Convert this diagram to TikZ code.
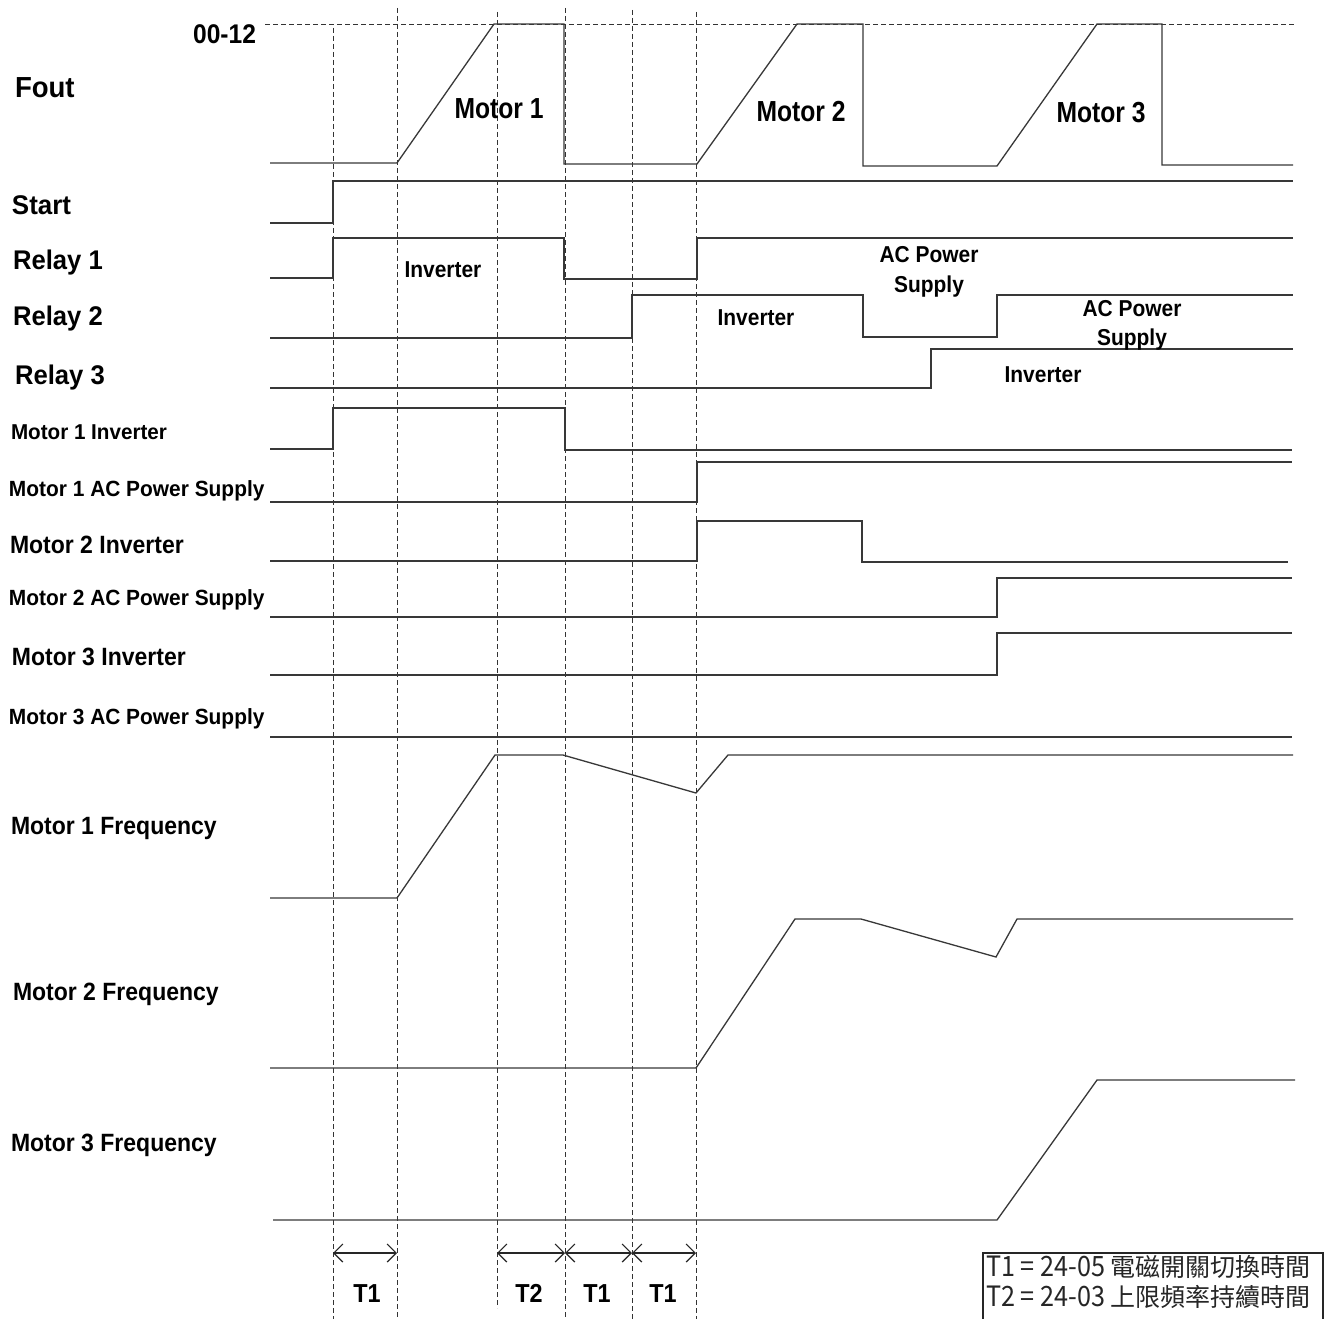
\documentclass[tikz,border=0pt]{standalone}
\usepackage{fontspec}
\setmainfont{Liberation Sans}
\newfontfamily\cjkfont{Noto Sans CJK TC}
\usetikzlibrary{arrows.meta}
\newcommand\lbl[3]{\scalebox{#2}[1]{\fontsize{#1}{#1}\selectfont\bfseries #3}}
\begin{document}
\begin{tikzpicture}[x=1pt,y=-1pt,
  txt/.style={inner sep=0pt, outer sep=0pt},
  wave/.style={line width=1.3pt, draw=black!78, line join=miter},
  guide/.style={line width=0.9pt, draw=black!80, dash pattern=on 5pt off 3pt},
  span/.style={line width=1.2pt, draw=black!85, {Straight Barb[length=9pt,width=18pt]}-{Straight Barb[length=9pt,width=18pt]}}
]
\useasboundingbox (0,0) rectangle (1330,1319);
\fill[white] (0,0) rectangle (1330,1319);

% guide lines
\draw[guide] (265,24) -- (1294,24);
\draw[guide] (333,28) -- (333,1319);
\draw[guide] (397,8) -- (397,1319);
\draw[guide] (497,12) -- (497,1308);
\draw[guide] (565,8) -- (565,1319);
\draw[guide] (632,10) -- (632,1319);
\draw[guide] (696,12) -- (696,1319);

% Fout
\draw[wave] (270,163)--(397,163)--(494,24)--(564,24)--(564,164)--(697,164)--(797,24)--(863,24)--(863,166)--(997,166)--(1097,24)--(1162,24)--(1162,165)--(1293,165);
% Start
\draw[wave] (270,223)--(333,223)--(333,181)--(1293,181);
% Relay 1
\draw[wave] (270,278)--(333,278)--(333,238)--(564,238)--(564,279)--(697,279)--(697,238)--(1293,238);
% Relay 2
\draw[wave] (270,338)--(632,338)--(632,295)--(863,295)--(863,337)--(997,337)--(997,295)--(1293,295);
% Relay 3
\draw[wave] (270,388)--(931,388)--(931,349)--(1293,349);
% Motor 1 Inverter
\draw[wave] (270,449)--(333,449)--(333,408)--(565,408)--(565,450)--(1292,450);
% Motor 1 AC
\draw[wave] (270,502)--(697,502)--(697,462)--(1292,462);
% Motor 2 Inverter
\draw[wave] (270,561)--(697,561)--(697,521)--(862,521)--(862,562)--(1288,562);
% Motor 2 AC
\draw[wave] (270,617)--(997,617)--(997,578)--(1292,578);
% Motor 3 Inverter
\draw[wave] (270,675)--(997,675)--(997,633)--(1292,633);
% Motor 3 AC
\draw[wave] (270,737)--(1292,737);
% Motor 1 Frequency
\draw[wave] (270,898)--(397,898)--(495,755)--(563,755)--(696,793)--(728,755)--(1293,755);
% Motor 2 Frequency
\draw[wave] (270,1068)--(696,1068)--(795,919)--(861,919)--(996,957)--(1017,919)--(1293,919);
% Motor 3 Frequency
\draw[wave] (273,1220)--(997,1220)--(1097,1080)--(1295,1080);

% left labels
\node[txt,anchor=base east] (l0012) at (256,44) {\lbl{27}{0.91}{00-12}};
\node[txt,anchor=base west] (lfout) at (15,98) {\lbl{29}{0.95}{Fout}};
\node[txt,anchor=base west] (lstart) at (12,214) {\lbl{27}{0.96}{Start}};
\node[txt,anchor=base west] (lr1) at (13,269) {\lbl{27}{0.95}{Relay 1}};
\node[txt,anchor=base west] (lr2) at (13,325) {\lbl{27}{0.95}{Relay 2}};
\node[txt,anchor=base west] (lr3) at (15,384) {\lbl{27}{0.95}{Relay 3}};
\node[txt,anchor=base west] (lm1i) at (11,439) {\lbl{21.5}{0.96}{Motor 1 Inverter}};
\node[txt,anchor=base west] (lm1a) at (9,496) {\lbl{22}{0.95}{Motor 1 AC Power Supply}};
\node[txt,anchor=base west] (lm2i) at (10,553) {\lbl{25}{0.92}{Motor 2 Inverter}};
\node[txt,anchor=base west] (lm2a) at (9,605) {\lbl{22}{0.95}{Motor 2 AC Power Supply}};
\node[txt,anchor=base west] (lm3i) at (12,665) {\lbl{25}{0.92}{Motor 3 Inverter}};
\node[txt,anchor=base west] (lm3a) at (9,724) {\lbl{22}{0.95}{Motor 3 AC Power Supply}};
\node[txt,anchor=base west] (lm1f) at (11,834) {\lbl{25}{0.92}{Motor 1 Frequency}};
\node[txt,anchor=base west] (lm2f) at (13,1000) {\lbl{25}{0.92}{Motor 2 Frequency}};
\node[txt,anchor=base west] (lm3f) at (11,1151) {\lbl{25}{0.92}{Motor 3 Frequency}};

% motor labels
\node[txt,anchor=base] (mot1) at (499,119) {\lbl{29}{0.85}{Motor 1}};
\node[txt,anchor=base] (mot2) at (801,122) {\lbl{29}{0.85}{Motor 2}};
\node[txt,anchor=base] (mot3) at (1101,123) {\lbl{29}{0.85}{Motor 3}};

% relay annotations
\node[txt,anchor=base] (inv1) at (443,277) {\lbl{23}{0.91}{Inverter}};
\node[txt,anchor=base] (inv2) at (756,325) {\lbl{23}{0.91}{Inverter}};
\node[txt,anchor=base] (inv3) at (1043,382) {\lbl{23}{0.91}{Inverter}};
\node[txt,anchor=base] (ac1a) at (929,262) {\lbl{23}{0.91}{AC Power}};
\node[txt,anchor=base] (ac1b) at (929,292) {\lbl{23}{0.91}{Supply}};
\node[txt,anchor=base] (ac2a) at (1132,316) {\lbl{23}{0.91}{AC Power}};
\node[txt,anchor=base] (ac2b) at (1132,345) {\lbl{23}{0.91}{Supply}};

% time spans
\coordinate (s1) at (333,1253);
\coordinate (s2) at (397,1253);
\coordinate (s3) at (497,1253);
\coordinate (s4) at (565,1253);
\coordinate (s5) at (632,1253);
\coordinate (s6) at (696,1253);
\draw[span] (s1) -- (s2);
\draw[span] (s3) -- (s4);
\draw[span] (s4) -- (s5);
\draw[span] (s5) -- (s6);
\node[txt,anchor=base] (tt1) at (367,1302) {\lbl{26}{0.9}{T1}};
\node[txt,anchor=base] (tt2) at (529,1302) {\lbl{26}{0.9}{T2}};
\node[txt,anchor=base] (tt3) at (597,1302) {\lbl{26}{0.9}{T1}};
\node[txt,anchor=base] (tt4) at (663,1302) {\lbl{26}{0.9}{T1}};

% legend
\draw[line width=1.5pt, black!85] (983,1330) -- (983,1253) -- (1323,1253) -- (1323,1330);
\node[txt,anchor=base west,text=black!85] (leg1) at (986,1276) {\cjkfont\fontsize{25}{25}\selectfont\scalebox{0.9}[1]{\fontsize{28}{28}\selectfont T1 = 24-05}~電磁開關切換時間};
\node[txt,anchor=base west,text=black!85] (leg2) at (986,1306) {\cjkfont\fontsize{25}{25}\selectfont\scalebox{0.9}[1]{\fontsize{28}{28}\selectfont T2 = 24-03}~上限頻率持續時間};
\end{tikzpicture}
\end{document}
